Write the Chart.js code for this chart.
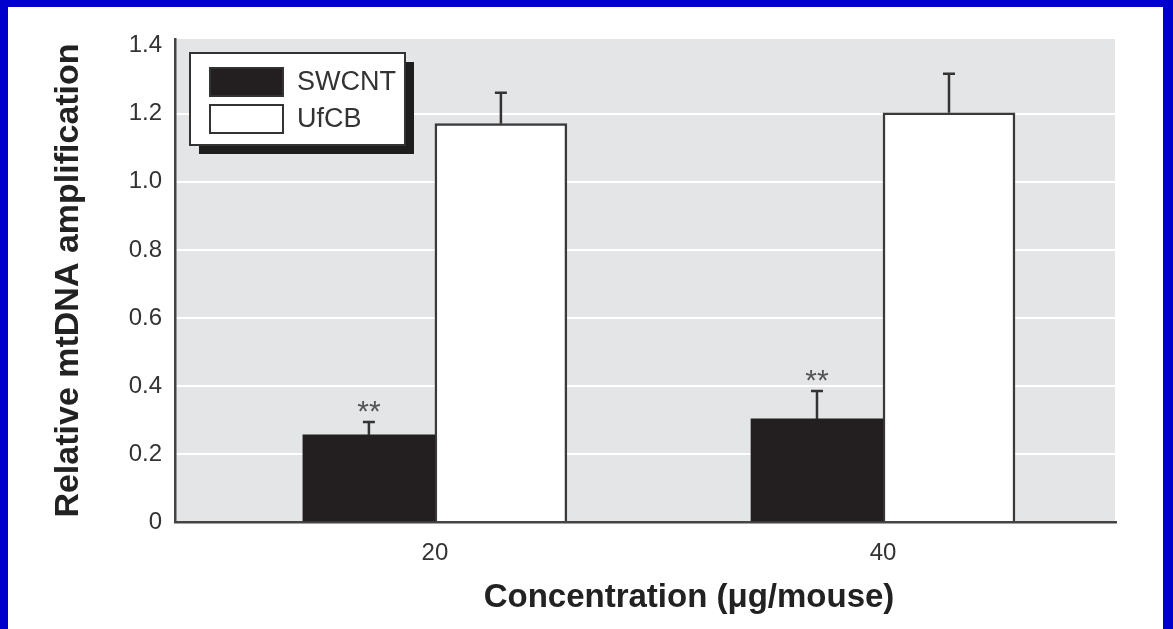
<!DOCTYPE html>
<html lang="en">
<head>
<meta charset="UTF-8" />
<title>Relative mtDNA amplification</title>
<script src="https://cdn.jsdelivr.net/npm/chart.js"></script>
<style>
  body {
    margin: 0;
    background: #0000cc;
    width: 1173px;
    height: 629px;
    overflow: hidden;
  }
  .frame {
    position: absolute;
    left: 8px;
    top: 7px;
    width: 1155px;
    height: 622px;
    background: #fff;
  }
  canvas { display: block; }
</style>
</head>
<body>
<div class="frame"><canvas id="chart" width="1155" height="622"></canvas></div>

<script>
  // values
  const doses = [20, 40];
  const seriesNames = ["SWCNT", "UfCB"];
  const swcnt = [0.256, 0.303];
  const swcntErr = [0.038, 0.082];
  const swcntMarks = ["**", "**"];
  const ufcb = [1.171, 1.203];
  const ufcbErr = [0.091, 0.115];
  const yTicks = [0, 0.2, 0.4, 0.6, 0.8, 1.0, 1.2, 1.4];
  const yTitle = "Relative mtDNA amplification";
  const xTitle = "Concentration (\u03bcg/mouse)";

  const FONT = "'Liberation Sans', Arial, sans-serif";

  // grey plot panel behind the grid
  const panel = {
    id: "panel",
    beforeDraw(chart) {
      const { ctx, chartArea: a } = chart;
      ctx.save();
      ctx.fillStyle = "#e4e5e7";
      ctx.fillRect(a.left, a.top, a.right - a.left - 1, a.bottom - a.top);
      ctx.restore();
    }
  };

  // error bars + significance marks
  const errorBars = {
    id: "errorBars",
    afterDatasetsDraw(chart) {
      const { ctx, scales: { y } } = chart;
      ctx.save();
      ctx.strokeStyle = "#333";
      ctx.lineWidth = 2.5;
      chart.data.datasets.forEach((ds, di) => {
        chart.getDatasetMeta(di).data.forEach((bar, i) => {
          const top = y.getPixelForValue(ds.data[i].y + ds.errors[i]);
          ctx.beginPath();
          ctx.moveTo(bar.x, bar.y);
          ctx.lineTo(bar.x, top);
          ctx.moveTo(bar.x - 6, top);
          ctx.lineTo(bar.x + 6, top);
          ctx.stroke();
          if (ds.marks && ds.marks[i]) {
            ctx.fillStyle = "#555";
            ctx.font = "30px " + FONT;
            ctx.textAlign = "center";
            ctx.textBaseline = "alphabetic";
            ctx.fillText(ds.marks[i], bar.x, top - 1);
          }
        });
      });
      ctx.restore();
    }
  };

  // boxed legend with drop shadow, plus the x title
  const extras = {
    id: "extras",
    afterDraw(chart) {
      const { ctx, chartArea: a } = chart;
      const bx = a.left + 15, by = a.top + 14, bw = 215, bh = 92;
      ctx.save();
      ctx.fillStyle = "#1e1e1e";
      ctx.fillRect(bx + 9, by + 9, bw, bh);
      ctx.fillStyle = "#fff";
      ctx.fillRect(bx, by, bw, bh);
      ctx.strokeStyle = "#333";
      ctx.lineWidth = 2;
      ctx.strokeRect(bx, by, bw, bh);

      ctx.font = "27px " + FONT;
      ctx.textBaseline = "middle";
      ctx.textAlign = "left";
      chart.data.datasets.forEach((ds, i) => {
        const sy = by + 15 + i * 37;
        ctx.fillStyle = ds.backgroundColor;
        ctx.fillRect(bx + 20, sy, 73, 28);
        ctx.strokeStyle = "#333";
        ctx.lineWidth = 2;
        ctx.strokeRect(bx + 20, sy, 73, 28);
        ctx.fillStyle = "#333";
        ctx.fillText(ds.label, bx + 107, sy + 15);
      });

      ctx.font = "bold 33px " + FONT;
      ctx.fillStyle = "#222";
      ctx.textAlign = "center";
      ctx.fillText(xTitle, a.left + 514, a.bottom + 76);
      ctx.restore();
    }
  };

  new Chart(document.getElementById("chart"), {
    type: "bar",
    data: {
      datasets: [
        {
          label: seriesNames[0],
          data: doses.map((d, i) => ({ x: d, y: swcnt[i] })),
          errors: swcntErr,
          marks: swcntMarks,
          backgroundColor: "#231f20",
          borderColor: "#231f20",
          borderWidth: 0
        },
        {
          label: seriesNames[1],
          data: doses.map((d, i) => ({ x: d, y: ufcb[i] })),
          errors: ufcbErr,
          backgroundColor: "#ffffff",
          borderColor: "#3a3a3a",
          borderWidth: 2.5
        }
      ]
    },
    options: {
      responsive: false,
      animation: false,
      events: [],
      barThickness: 132,
      layout: { padding: { left: 0, right: 47, top: 32, bottom: 0 } },
      scales: {
        x: {
          type: "linear",
          min: 8.4,
          max: 50.4,
          offset: false,
          afterBuildTicks: s => { s.ticks = doses.map(v => ({ value: v })); },
          afterFit: s => { s.height = 107; },
          grid: { display: false, drawTicks: false },
          border: { display: true, color: "#444", width: 2.5 },
          ticks: {
            color: "#333",
            font: { family: FONT, size: 24 },
            padding: 17,
            maxRotation: 0,
            callback: v => String(v)
          }
        },
        y: {
          min: 0,
          max: 1.42,
          afterBuildTicks: s => { s.ticks = yTicks.map(v => ({ value: v })); },
          afterFit: s => { s.width = 167; },
          grid: {
            drawTicks: false,
            lineWidth: 2,
            color: c => (c.tick && c.tick.value > 0 && c.tick.value < 1.3) ? "#ffffff" : "rgba(0,0,0,0)"
          },
          border: { display: true, color: "#444", width: 2.5 },
          ticks: {
            color: "#333",
            font: { family: FONT, size: 24 },
            padding: 13,
            callback: v => v === 0 ? "0" : v.toFixed(1)
          },
          title: {
            display: true,
            text: yTitle,
            color: "#222",
            font: { family: FONT, size: 34, weight: "bold" },
            padding: { top: 40, bottom: 0 }
          }
        }
      },
      plugins: {
        legend: { display: false },
        tooltip: { enabled: false }
      }
    },
    plugins: [panel, errorBars, extras]
  });
</script>
</body>
</html>
